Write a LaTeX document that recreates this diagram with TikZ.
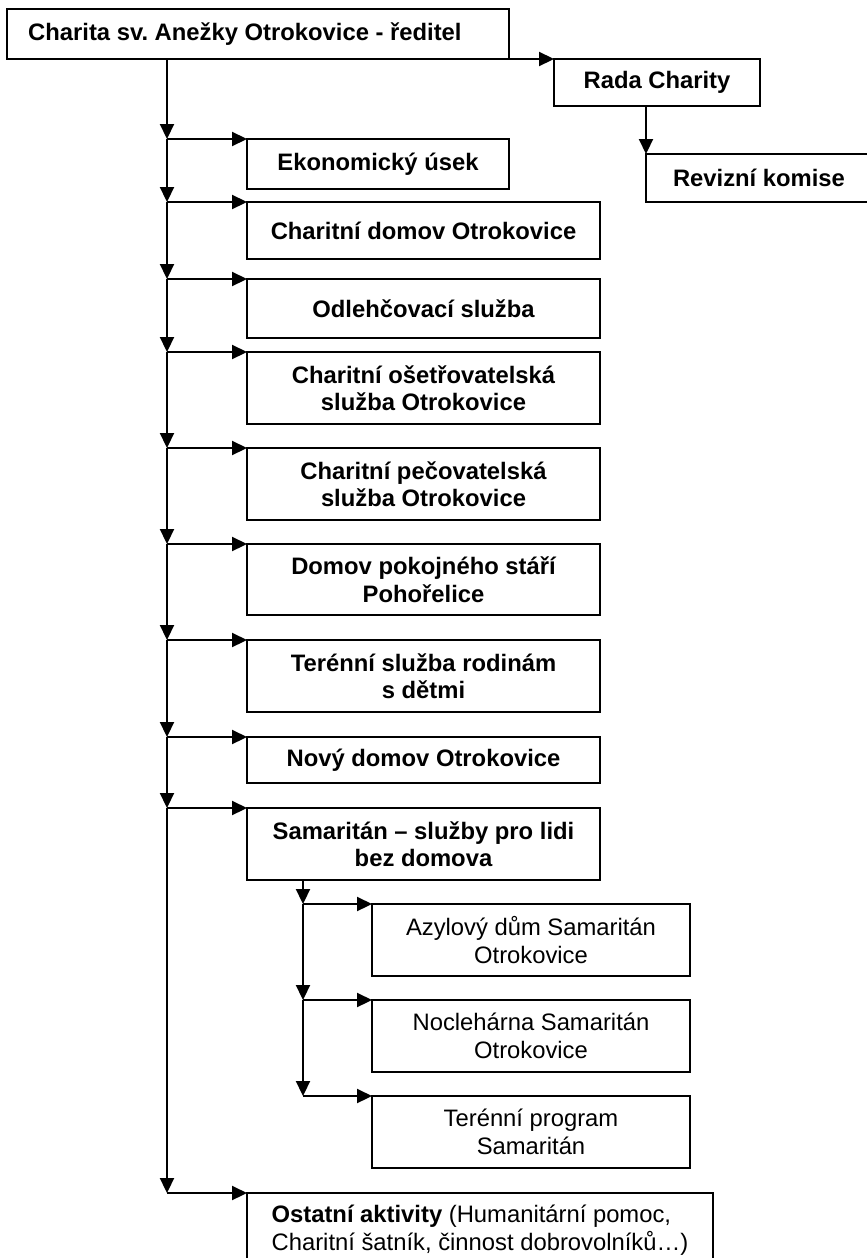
\documentclass[tikz,border=0pt]{standalone}
\usepackage{fontspec}
\setmainfont{Liberation Sans}
\usetikzlibrary{arrows.meta}
\frenchspacing
\tikzset{
  box/.style={draw, line width=2.2pt, inner sep=0pt, outer sep=0pt, anchor=north west,
    align=center, font=\fontsize{23.8}{27.5}\selectfont\bfseries},
  subbox/.style={box, font=\fontsize{23.8}{27.5}\selectfont},
  arr/.style={line width=2.2pt, -{Triangle[length=15pt,width=14pt]}}
}
\begin{document}
\begin{tikzpicture}[x=1pt,y=-1pt]
\useasboundingbox (0,0) rectangle (867,1258);
% top level
\node[box, minimum width=502pt, minimum height=50pt] (top) at (7,9) {};
\node[anchor=west, inner sep=0pt, font=\fontsize{23.8}{27.5}\selectfont\bfseries] (toptxt) at (28,34) {Charita sv.~Anežky Otrokovice - ředitel};
\node[box, minimum width=206pt, minimum height=47pt] (rada) at (554,59) {Rada Charity};
\node[box, minimum width=226pt, minimum height=48pt] (rev) at (646,154) {Revizní komise};
% main column
\node[box, minimum width=262pt, minimum height=50pt] (eko) at (247,139) {Ekonomický úsek};
\node[box, minimum width=353pt, minimum height=57pt] (cd) at (247,202) {Charitní domov Otrokovice};
\node[box, minimum width=353pt, minimum height=59pt] (odl) at (247,279) {Odlehčovací služba};
\node[box, minimum width=353pt, minimum height=72pt] (ose) at (247,352) {Charitní ošetřovatelská\\služba Otrokovice};
\node[box, minimum width=353pt, minimum height=72pt] (pec) at (247,448) {Charitní pečovatelská\\služba Otrokovice};
\node[box, minimum width=353pt, minimum height=71pt] (dps) at (247,544) {Domov pokojného stáří\\Pohořelice};
\node[box, minimum width=353pt, minimum height=72pt] (ter) at (247,640) {Terénní služba rodinám\\s dětmi};
\node[box, minimum width=353pt, minimum height=46pt] (nov) at (247,737) {Nový domov Otrokovice};
\node[box, minimum width=353pt, minimum height=72pt] (sam) at (247,808) {Samaritán – služby pro lidi\\bez domova};
% samaritan sub boxes
\node[subbox, minimum width=318pt, minimum height=72pt] (azy) at (372,904) {Azylový dům Samaritán\\Otrokovice};
\node[subbox, minimum width=318pt, minimum height=72pt] (noc) at (372,1000) {Noclehárna Samaritán\\Otrokovice};
\node[subbox, minimum width=318pt, minimum height=72pt] (tps) at (372,1096) {Terénní program\\Samaritán};
% other activities
\node[subbox, align=left, minimum width=466pt, minimum height=74pt] (ost) at (247,1193) {\textbf{Ostatní aktivity} (Humanitární pomoc,\\Charitní šatník, činnost dobrovolníků…)};
% trunk coordinates
\coordinate (tx) at (167,0);
\coordinate (sx) at (303,0);
\coordinate (b1) at (tx |- eko.north west);
\coordinate (b2) at (tx |- cd.north west);
\coordinate (b3) at (tx |- odl.north west);
\coordinate (b4) at (tx |- ose.north west);
\coordinate (b5) at (tx |- pec.north west);
\coordinate (b6) at (tx |- dps.north west);
\coordinate (b7) at (tx |- ter.north west);
\coordinate (b8) at (tx |- nov.north west);
\coordinate (b9) at (tx |- sam.north west);
\coordinate (b10) at (tx |- ost.north west);
\coordinate (s1) at (sx |- azy.north west);
\coordinate (s2) at (sx |- noc.north west);
\coordinate (s3) at (sx |- tps.north west);
% connectors
\draw[arr] (top.south east) -- (rada.north west);
\draw[arr] (rada.south -| rev.north west) -- (rev.north west);
\draw[arr] (top.south -| tx) -- (b1);
\draw[arr] (b1) -- (eko.north west);
\draw[arr] (b1) -- (b2);
\draw[arr] (b2) -- (cd.north west);
\draw[arr] (b2) -- (b3);
\draw[arr] (b3) -- (odl.north west);
\draw[arr] (b3) -- (b4);
\draw[arr] (b4) -- (ose.north west);
\draw[arr] (b4) -- (b5);
\draw[arr] (b5) -- (pec.north west);
\draw[arr] (b5) -- (b6);
\draw[arr] (b6) -- (dps.north west);
\draw[arr] (b6) -- (b7);
\draw[arr] (b7) -- (ter.north west);
\draw[arr] (b7) -- (b8);
\draw[arr] (b8) -- (nov.north west);
\draw[arr] (b8) -- (b9);
\draw[arr] (b9) -- (sam.north west);
\draw[arr] (b9) -- (b10);
\draw[arr] (b10) -- (ost.north west);
\draw[arr] (sam.south -| sx) -- (s1);
\draw[arr] (s1) -- (azy.north west);
\draw[arr] (s1) -- (s2);
\draw[arr] (s2) -- (noc.north west);
\draw[arr] (s2) -- (s3);
\draw[arr] (s3) -- (tps.north west);
\end{tikzpicture}
\end{document}
